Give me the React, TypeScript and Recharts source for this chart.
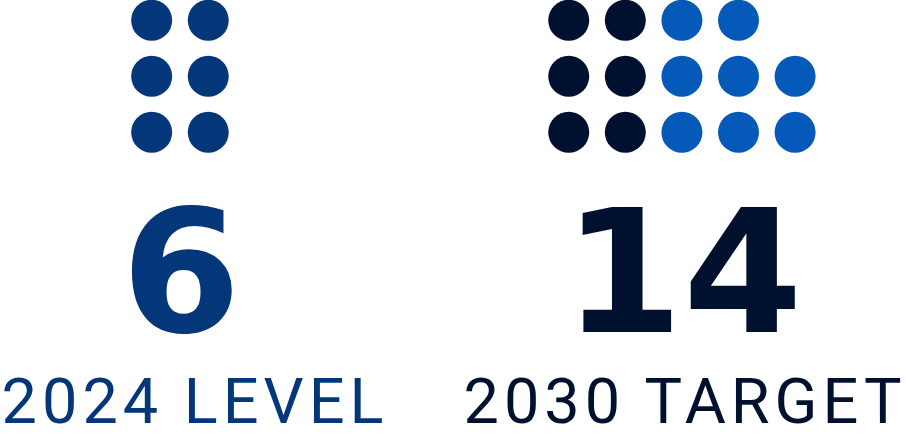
import { ScatterChart, Scatter, XAxis, YAxis } from "recharts";

const labels = ["2024 LEVEL", "2030 TARGET"];
const totals = [6, 14];
const baseLevel = 6; // dots already reached in 2024

const NAVY = "#04367a";
const DARK = "#00112f";
const BLUE = "#0459b9";

type Dot = { x: number; y: number; fill: string };

// lay dots out in a grid: `cols` wide, 3 rows, optionally filled bottom-up
function grid(count: number, cols: number, startCol: number, fill: string, bottomUp = false): Dot[] {
  const out: Dot[] = [];
  for (let i = 0; i < count; i++) {
    let row = Math.floor(i / cols);
    const col = i % cols;
    if (bottomUp) row = 2 - row;
    out.push({ x: startCol + col, y: row, fill });
  }
  return out;
}

const dots2024 = grid(totals[0], 2, 0, NAVY);
const dots2030Base = grid(baseLevel, 2, 7.37, DARK);
const dots2030Added = grid(totals[1] - baseLevel, 3, 9.37, BLUE, true);

const W = 906;
const H = 440;

const DotShape = (props: any) => (
  <circle cx={props.cx} cy={props.cy} r={20.5} fill={props.payload.fill} />
);

const numStyle = { fontFamily: "DejaVu Sans", fontWeight: 700, fontSize: 172 };
const labelStyle = { fontFamily: "Roboto", fontWeight: 400, fontSize: 63, letterSpacing: 5 };

export default function App() {
  return (
    <div style={{ position: "absolute", left: 0, top: 0, width: W, height: H, background: "#fff" }}>
      <ScatterChart width={W} height={H} margin={{ top: 0, right: 0, bottom: 0, left: 0 }}>
        <XAxis type="number" dataKey="x" domain={[-2.68, 13.33]} hide />
        <YAxis type="number" dataKey="y" domain={[-0.3625, 7.495]} reversed hide />
        <Scatter data={dots2024} shape={DotShape} isAnimationActive={false} />
        <Scatter data={dots2030Base} shape={DotShape} isAnimationActive={false} />
        <Scatter data={dots2030Added} shape={DotShape} isAnimationActive={false} />
      </ScatterChart>
      <svg width={W} height={H} style={{ position: "absolute", left: 0, top: 0, pointerEvents: "none" }}>
        <text x={181} y={332} textAnchor="middle" fill={NAVY} style={numStyle}>
          {totals[0]}
        </text>
        <text x={683} y={332} textAnchor="middle" fill={DARK} style={numStyle}>
          {totals[1]}
        </text>
        <text x={195} y={423} textAnchor="middle" fill={NAVY} style={labelStyle}>
          {labels[0]}
        </text>
        <text x={685} y={423} textAnchor="middle" fill={DARK} style={labelStyle}>
          {labels[1]}
        </text>
      </svg>
    </div>
  );
}
